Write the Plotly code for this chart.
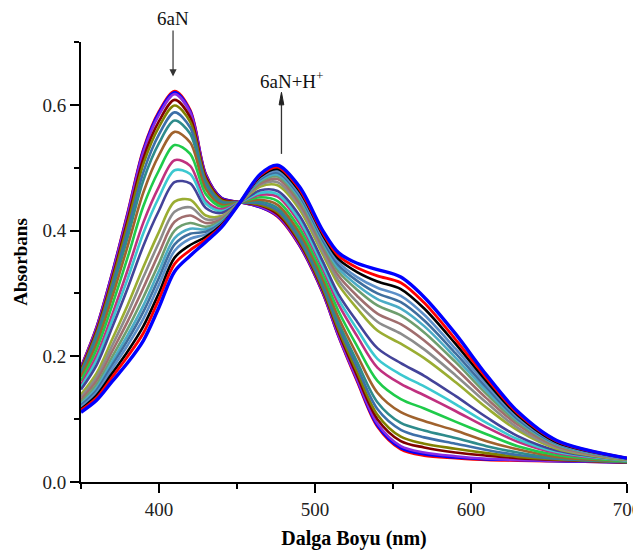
import plotly.graph_objects as go

# Wavelength grid (nm)
wavelength = [350, 360, 370, 380, 390, 400, 410, 420, 430, 440, 452, 465, 476,
              490, 505, 515, 527, 540, 555, 570, 590, 610, 630, 655, 700]

# Absorbance spectra (titration order, 6aN -> 6aN+H+)
curve_01 = [0.183, 0.247, 0.333, 0.430, 0.530, 0.590, 0.622, 0.592, 0.490, 0.452, 0.445, 0.437, 0.422,
            0.376, 0.300, 0.232, 0.160, 0.088, 0.052, 0.042, 0.038, 0.035, 0.034, 0.033, 0.031]
curve_02 = [0.182, 0.246, 0.332, 0.428, 0.528, 0.588, 0.620, 0.590, 0.489, 0.452, 0.445, 0.437, 0.423,
            0.377, 0.301, 0.233, 0.162, 0.090, 0.054, 0.044, 0.039, 0.036, 0.035, 0.033, 0.031]
curve_03 = [0.182, 0.245, 0.330, 0.426, 0.525, 0.584, 0.617, 0.588, 0.488, 0.451, 0.445, 0.438, 0.424,
            0.378, 0.302, 0.234, 0.163, 0.093, 0.057, 0.047, 0.041, 0.037, 0.035, 0.034, 0.031]
curve_04 = [0.179, 0.241, 0.324, 0.418, 0.515, 0.574, 0.608, 0.580, 0.485, 0.450, 0.445, 0.440, 0.426,
            0.381, 0.305, 0.239, 0.169, 0.100, 0.065, 0.055, 0.047, 0.042, 0.038, 0.035, 0.031]
curve_05 = [0.177, 0.237, 0.319, 0.411, 0.506, 0.565, 0.599, 0.573, 0.481, 0.448, 0.445, 0.441, 0.429,
            0.384, 0.308, 0.243, 0.175, 0.107, 0.072, 0.061, 0.053, 0.046, 0.040, 0.036, 0.032]
curve_06 = [0.174, 0.233, 0.312, 0.401, 0.493, 0.553, 0.588, 0.564, 0.477, 0.446, 0.445, 0.443, 0.432,
            0.387, 0.312, 0.248, 0.183, 0.116, 0.083, 0.071, 0.061, 0.051, 0.043, 0.037, 0.032]
curve_07 = [0.171, 0.227, 0.305, 0.390, 0.480, 0.539, 0.575, 0.554, 0.472, 0.444, 0.445, 0.446, 0.436,
            0.392, 0.317, 0.254, 0.191, 0.127, 0.094, 0.082, 0.070, 0.057, 0.047, 0.038, 0.032]
curve_08 = [0.167, 0.220, 0.294, 0.376, 0.461, 0.520, 0.557, 0.540, 0.466, 0.441, 0.445, 0.449, 0.441,
            0.397, 0.323, 0.262, 0.202, 0.142, 0.111, 0.097, 0.082, 0.065, 0.052, 0.040, 0.033]
curve_09 = [0.161, 0.211, 0.281, 0.358, 0.439, 0.496, 0.536, 0.522, 0.458, 0.438, 0.445, 0.453, 0.447,
            0.404, 0.330, 0.272, 0.216, 0.161, 0.132, 0.117, 0.096, 0.076, 0.057, 0.043, 0.033]
curve_10 = [0.155, 0.201, 0.266, 0.338, 0.413, 0.470, 0.512, 0.503, 0.448, 0.434, 0.445, 0.457, 0.454,
            0.412, 0.339, 0.283, 0.232, 0.182, 0.156, 0.138, 0.113, 0.087, 0.064, 0.046, 0.034]
curve_11 = [0.151, 0.194, 0.257, 0.324, 0.396, 0.453, 0.496, 0.490, 0.443, 0.431, 0.445, 0.460, 0.458,
            0.417, 0.344, 0.291, 0.243, 0.196, 0.171, 0.152, 0.124, 0.094, 0.068, 0.048, 0.034]
curve_12 = [0.147, 0.186, 0.246, 0.309, 0.376, 0.432, 0.477, 0.475, 0.436, 0.428, 0.445, 0.464, 0.463,
            0.424, 0.351, 0.299, 0.255, 0.213, 0.189, 0.169, 0.137, 0.103, 0.073, 0.050, 0.035]
curve_13 = [0.139, 0.173, 0.227, 0.282, 0.342, 0.398, 0.446, 0.449, 0.424, 0.423, 0.445, 0.470, 0.472,
            0.434, 0.362, 0.314, 0.276, 0.241, 0.220, 0.197, 0.159, 0.118, 0.082, 0.053, 0.035]
curve_14 = [0.135, 0.167, 0.217, 0.269, 0.326, 0.381, 0.430, 0.437, 0.418, 0.421, 0.445, 0.473, 0.477,
            0.439, 0.367, 0.321, 0.286, 0.255, 0.236, 0.211, 0.170, 0.126, 0.086, 0.055, 0.036]
curve_15 = [0.131, 0.161, 0.208, 0.256, 0.309, 0.364, 0.414, 0.424, 0.412, 0.418, 0.445, 0.475, 0.482,
            0.444, 0.373, 0.328, 0.296, 0.268, 0.251, 0.225, 0.181, 0.133, 0.091, 0.057, 0.036]
curve_16 = [0.127, 0.155, 0.199, 0.244, 0.294, 0.348, 0.400, 0.412, 0.406, 0.416, 0.445, 0.478, 0.486,
            0.449, 0.378, 0.335, 0.306, 0.281, 0.265, 0.238, 0.191, 0.140, 0.095, 0.059, 0.036]
curve_17 = [0.124, 0.150, 0.192, 0.234, 0.281, 0.336, 0.388, 0.403, 0.402, 0.414, 0.445, 0.480, 0.489,
            0.453, 0.382, 0.340, 0.313, 0.291, 0.276, 0.248, 0.198, 0.145, 0.098, 0.060, 0.037]
curve_18 = [0.122, 0.146, 0.186, 0.226, 0.271, 0.325, 0.378, 0.395, 0.398, 0.412, 0.445, 0.482, 0.492,
            0.456, 0.385, 0.345, 0.320, 0.300, 0.286, 0.257, 0.205, 0.150, 0.100, 0.061, 0.037]
curve_19 = [0.119, 0.142, 0.180, 0.218, 0.260, 0.314, 0.368, 0.387, 0.394, 0.410, 0.445, 0.484, 0.495,
            0.459, 0.389, 0.350, 0.326, 0.309, 0.296, 0.266, 0.212, 0.155, 0.103, 0.062, 0.037]
curve_20 = [0.116, 0.138, 0.173, 0.208, 0.248, 0.301, 0.357, 0.377, 0.390, 0.409, 0.445, 0.486, 0.498,
            0.463, 0.393, 0.355, 0.334, 0.319, 0.307, 0.276, 0.220, 0.160, 0.106, 0.063, 0.038]
curve_21 = [0.114, 0.134, 0.167, 0.200, 0.237, 0.291, 0.347, 0.369, 0.386, 0.407, 0.445, 0.488, 0.501,
            0.466, 0.396, 0.360, 0.341, 0.328, 0.317, 0.285, 0.227, 0.165, 0.109, 0.065, 0.038]
curve_22 = [0.111, 0.130, 0.160, 0.190, 0.225, 0.278, 0.335, 0.360, 0.382, 0.405, 0.445, 0.490, 0.504,
            0.470, 0.400, 0.365, 0.348, 0.338, 0.326, 0.294, 0.236, 0.170, 0.112, 0.066, 0.038]

curves = [curve_01, curve_02, curve_03, curve_04, curve_05, curve_06, curve_07, curve_08,
          curve_09, curve_10, curve_11, curve_12, curve_13, curve_14, curve_15, curve_16,
          curve_17, curve_18, curve_19, curve_20, curve_21, curve_22]

colors = ["#FF0000", "#0000FF", "#8B2BE2", "#800000", "#808000", "#3D6FA8", "#2E8B8B", "#A0622D",
          "#1FCB4A", "#C0307F", "#3CC8D0", "#434399", "#9AAD32", "#8C8C8C", "#A06E6E", "#6E9E6E",
          "#4BACC6", "#3F6E9E", "#5B8FC8", "#000000", "#FF0000", "#0000FF"]
widths = [2.6] * 19 + [2.6, 2.8, 3.4]

x_ticks = [400, 500, 600, 700]
y_ticks = [0.0, 0.2, 0.4, 0.6]

fig = go.Figure()
for ys, c, w in zip(curves, colors, widths):
    fig.add_trace(go.Scatter(x=wavelength, y=ys, mode="lines",
                             line=dict(color=c, width=w, shape="spline", smoothing=0.9),
                             showlegend=False, hoverinfo="skip"))

serif = "Liberation Serif, Times New Roman, serif"

# the page body adds an 8px offset; figure is sized so it ends at the window edge
fig.update_layout(
    width=633, height=550,
    margin=dict(l=73, r=14, t=34, b=76),
    paper_bgcolor="white", plot_bgcolor="white",
    font=dict(family=serif, color="#111111"),
    xaxis=dict(range=[350, 700], showgrid=False, zeroline=False, automargin=False,
               showline=True, linecolor="black", linewidth=2,
               ticks="outside", ticklen=9, tickwidth=2, tickcolor="black",
               tickvals=x_ticks, ticklabeloverflow="allow",
               tickfont=dict(size=19, family=serif, color="#222"),
               minor=dict(ticks="outside", ticklen=5, tickwidth=2, tickcolor="black",
                          tick0=350, dtick=50),
               title=dict(text="<b>Dalga Boyu (nm)</b>", font=dict(size=20, family=serif, color="black"),
                          standoff=12)),
    yaxis=dict(range=[0, 0.7], showgrid=False, zeroline=False, automargin=False,
               showline=True, linecolor="black", linewidth=2,
               ticks="outside", ticklen=9, tickwidth=2, tickcolor="black",
               tickvals=y_ticks, tickformat=".1f",
               tickfont=dict(size=19, family=serif, color="#222"),
               minor=dict(ticks="outside", ticklen=5, tickwidth=2, tickcolor="black",
                          tick0=0, dtick=0.1),
               title=dict(text="<b>Absorbans</b>", font=dict(size=19, family=serif, color="black"),
                          standoff=10)),
)

# "6aN" label with its downward arrow
fig.add_annotation(x=409, y=0.645, xref="x", yref="y", text="6aN", showarrow=True,
                   ax=0, ay=-58, arrowhead=2, arrowsize=1.2, arrowwidth=1.2, arrowcolor="#333",
                   font=dict(size=19, family=serif, color="#111"))
# "6aN+H+" label
fig.add_annotation(x=485, y=0.640, xref="x", yref="y", text="6aN+H<sup>+</sup>", showarrow=False,
                   font=dict(size=19, family=serif, color="#111"))
# upward arrow toward "6aN+H+"
fig.add_shape(type="line", xref="x", yref="y", x0=478.5, x1=478.5, y0=0.522, y1=0.606,
              line=dict(color="#333", width=1.3))
fig.add_shape(type="path", xref="x", yref="y",
              path="M 477.0,0.600 L 478.5,0.620 L 480.0,0.600 Z",
              fillcolor="#222", line=dict(color="#222", width=1))

fig.write_html("out.html")
